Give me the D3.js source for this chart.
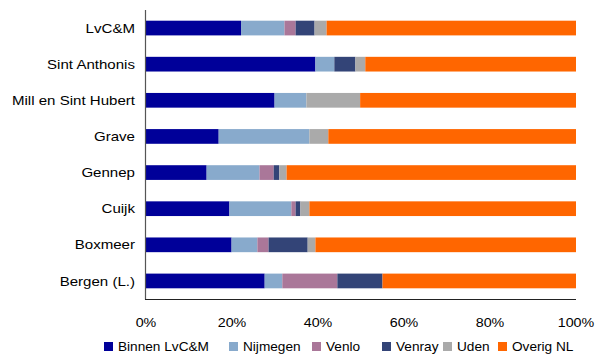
<!DOCTYPE html>
<html><head><meta charset="utf-8">
<script src="https://d3js.org/d3.v7.min.js"></script>
<style>body{margin:0;background:#fff}svg{display:block;font-family:"Liberation Sans",Arial,sans-serif}</style>
</head><body>
<svg id="c" width="595" height="354"></svg>
<script>
const categories = ["LvC&M","Sint Anthonis","Mill en Sint Hubert","Grave","Gennep","Cuijk","Boxmeer","Bergen (L.)"];
const seriesNames = ["Binnen LvC&M","Nijmegen","Venlo","Venray","Uden","Overig NL"];
const binnen   = [22.1, 39.4, 29.9, 16.9, 14.1, 19.4, 19.9, 27.6];
const nijmegen = [10.1,  4.4,  7.4, 21.1, 12.3, 14.4,  6.0,  4.1];
const venlo    = [ 2.6,  0.0,  0.0,  0.0,  3.3,  1.0,  2.6, 12.8];
const venray   = [ 4.4,  4.9,  0.0,  0.0,  1.3,  1.1,  9.1, 10.5];
const uden     = [ 2.8,  2.3, 12.5,  4.4,  1.7,  2.1,  1.8,  0.0];
const overig   = [58.0, 49.0, 50.2, 57.6, 67.3, 62.0, 60.6, 45.0];
const tickValues = [0, 0.2, 0.4, 0.6, 0.8, 1.0];
const colors = ["#000099","#88AACC","#AA7799","#334477","#AAAAAA","#FF6600"];

const seriesData = [binnen, nijmegen, venlo, venray, uden, overig];
const rows = categories.map((c, i) => {
  const r = {cat: c};
  const tot = d3.sum(seriesData, s => s[i]);
  seriesNames.forEach((n, k) => r[n] = seriesData[k][i] / tot);
  return r;
});
const stack = d3.stack().keys(seriesNames)(rows);

const svg = d3.select("#c");
const L = 146, R = 576, T = 10, B = 299;
const x = d3.scaleLinear().domain([0, 1]).range([L, R]);
const y = d3.scaleBand().domain(categories).range([T, B]).paddingInner(0.593).paddingOuter(0.296);
const color = d3.scaleOrdinal().domain(seriesNames).range(colors);

svg.append("g").selectAll("g").data(stack).join("g")
  .attr("fill", d => color(d.key))
  .selectAll("rect").data(d => d).join("rect")
  .attr("x", d => x(d[0]))
  .attr("width", d => x(d[1]) - x(d[0]))
  .attr("y", d => y(d.data.cat))
  .attr("height", y.bandwidth());

// axes lines
svg.append("line").attr("x1", L - 0.5).attr("x2", L - 0.5).attr("y1", T).attr("y2", B + 0.5)
  .attr("stroke", "#555").attr("stroke-width", 1.2);
svg.append("line").attr("x1", L - 1).attr("x2", R).attr("y1", B + 0.5).attr("y2", B + 0.5)
  .attr("stroke", "#222").attr("stroke-width", 1.2);

// category labels
svg.append("g").selectAll("text").data(categories).join("text")
  .attr("transform", d => `translate(135,${y(d) + y.bandwidth() / 2}) scale(1.16,1)`)
  .attr("dy", "0.35em").attr("text-anchor", "end")
  .attr("font-size", 13).attr("fill", "#000").text(d => d);

// x ticks
svg.append("g").selectAll("text").data(tickValues).join("text")
  .attr("transform", d => `translate(${x(d)},327) scale(1.1,1)`)
  .attr("text-anchor", "middle")
  .attr("font-size", 13).attr("fill", "#000").text(d => d3.format(".0%")(d));

// legend
const legX = [104, 229, 312, 382, 443, 498];
const leg = svg.append("g").selectAll("g").data(seriesNames).join("g")
  .attr("transform", (d, i) => `translate(${legX[i]},0)`);
leg.append("rect").attr("x", 0).attr("y", 342).attr("width", 9).attr("height", 9).attr("fill", d => color(d));
leg.append("text").attr("transform", `translate(14,351) scale(1.05,1)`)
  .attr("font-size", 13).attr("fill", "#000").text(d => d);
</script>
</body></html>
